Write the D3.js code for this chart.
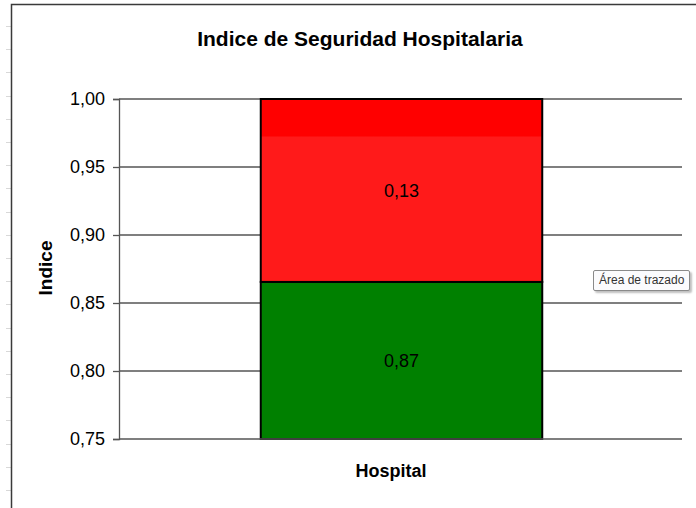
<!DOCTYPE html>
<html>
<head>
<meta charset="utf-8">
<script src="https://cdn.jsdelivr.net/npm/d3@7"></script>
<style>
  body { margin: 0; background: #fff; font-family: Arial, "Liberation Sans", sans-serif; }
  #chart { position: relative; width: 696px; height: 508px; overflow: hidden; }
  .tip {
    position: absolute; left: 593px; top: 270px; padding: 2px 5px 3px 5px;
    font-size: 12px; color: #333; background: #fbfbfd;
    border: 1px solid #8a8a8a; border-radius: 2px;
    box-shadow: 2px 2px 2px rgba(0,0,0,0.25);
  }
</style>
</head>
<body>
<div id="chart"></div>
<script>
// chart values
const categories = ['Hospital'];
const seriesNames = ['Seguro', 'Inseguro'];
const seriesValues = [[0.8655], [0.1345]];
const seriesColors = ['#008000', '#ff1a1a'];
const yTicks = [0.75, 0.80, 0.85, 0.90, 0.95, 1.00];

const width = 696, height = 508;
const margin = { top: 99, right: 14, bottom: 69, left: 119 };

const container = d3.select('#chart');
const svg = container.append('svg')
    .attr('width', width)
    .attr('height', height);

// red fill looks a bit darker in the top part
const defs = svg.append('defs');
const grad = defs.append('linearGradient')
    .attr('id', 'redFill')
    .attr('x1', 0).attr('y1', 0).attr('x2', 0).attr('y2', 1);
grad.append('stop').attr('offset', '0%').attr('stop-color', '#ff0000');
grad.append('stop').attr('offset', '20%').attr('stop-color', '#ff0000');
grad.append('stop').attr('offset', '21%').attr('stop-color', '#ff1a1a');
grad.append('stop').attr('offset', '100%').attr('stop-color', '#ff1a1a');

// worksheet row stubs + chart border
svg.append('g')
    .selectAll('line')
    .data(d3.range(26, height, 23.2))
    .join('line')
    .attr('x1', 6).attr('x2', 11)
    .attr('y1', d => Math.round(d) + 0.5).attr('y2', d => Math.round(d) + 0.5)
    .attr('stroke', '#d8d8d8');

svg.append('path')
    .attr('d', `M11.5,${height} V4.5 H${width}`)
    .attr('fill', 'none')
    .attr('stroke', '#3a3a3a')
    .attr('stroke-width', 1.5);

const x = d3.scaleBand()
    .domain(categories)
    .range([margin.left, width - margin.right])
    .paddingInner(0)
    .paddingOuter(0.5);

const y = d3.scaleLinear()
    .domain([0.75, 1])
    .range([height - margin.bottom, margin.top]);

const lo = v => y(Math.max(v, 0.75));
const hi = v => y(Math.min(v, 1));

// gridlines
svg.append('g')
    .selectAll('line')
    .data(yTicks.slice(1))
    .join('line')
    .attr('x1', margin.left).attr('x2', width - margin.right)
    .attr('y1', d => y(d)).attr('y2', d => y(d))
    .attr('stroke', '#555')
    .attr('stroke-width', 1.3);

// stacked bar
const table = categories.map((c, i) => {
    const row = { cat: c };
    seriesNames.forEach((s, j) => row[s] = seriesValues[j][i]);
    return row;
});
const stacked = d3.stack().keys(seriesNames)(table);
const fmt = v => d3.format('.2f')(v).replace('.', ',');

const layers = svg.append('g')
    .selectAll('g')
    .data(stacked)
    .join('g');

layers.selectAll('rect')
    .data((d, j) => d.map(p => ({ j: j, p: p })))
    .join('rect')
    .attr('x', d => x(d.p.data.cat) + 1)
    .attr('width', x.bandwidth())
    .attr('y', d => hi(d.p[1]))
    .attr('height', d => lo(d.p[0]) - hi(d.p[1]))
    .attr('fill', d => d.j === 1 ? 'url(#redFill)' : seriesColors[d.j])
    .attr('stroke', '#000')
    .attr('stroke-width', 2);

layers.selectAll('text')
    .data((d, j) => d.map(p => ({ p: p, v: seriesValues[j][0] })))
    .join('text')
    .attr('x', d => x(d.p.data.cat) + x.bandwidth() / 2 + 1)
    .attr('y', d => (lo(d.p[0]) + hi(d.p[1])) / 2)
    .attr('dy', '0.35em')
    .attr('text-anchor', 'middle')
    .style('font-size', '18px')
    .attr('fill', '#000')
    .text(d => fmt(d.v));

// y axis
const yAxis = svg.append('g')
    .attr('transform', `translate(${margin.left},0)`)
    .call(d3.axisLeft(y).tickValues(yTicks).tickSize(6).tickPadding(8).tickFormat(fmt));
yAxis.select('.domain').attr('stroke', '#555').attr('stroke-width', 1.3);
yAxis.selectAll('.tick line').attr('stroke', '#555').attr('stroke-width', 1.3);
yAxis.selectAll('.tick text')
    .style('font-size', '18px')
    .style('font-family', 'Arial, "Liberation Sans", sans-serif')
    .attr('fill', '#000');

// x axis line
svg.append('line')
    .attr('x1', margin.left).attr('x2', width - margin.right)
    .attr('y1', y(0.75)).attr('y2', y(0.75))
    .attr('stroke', '#555')
    .attr('stroke-width', 1.5);

// titles
svg.append('text')
    .attr('x', 360).attr('y', 46)
    .attr('text-anchor', 'middle')
    .style('font-size', '21px').style('font-weight', 'bold')
    .text('Indice de Seguridad Hospitalaria');

svg.append('text')
    .attr('transform', 'translate(52,268) rotate(-90)')
    .attr('text-anchor', 'middle')
    .style('font-size', '19px').style('font-weight', 'bold')
    .text('Indice');

svg.append('text')
    .attr('x', 391).attr('y', 477)
    .attr('text-anchor', 'middle')
    .style('font-size', '18px').style('font-weight', 'bold')
    .text('Hospital');

container.append('div').attr('class', 'tip').text('Área de trazado');
</script>
</body>
</html>
